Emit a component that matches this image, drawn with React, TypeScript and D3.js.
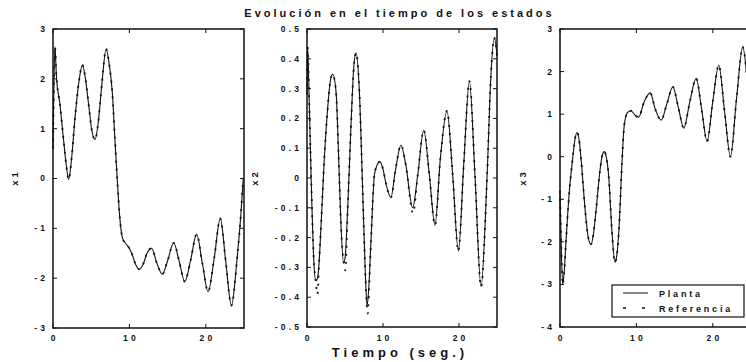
import React from "react";
import * as d3 from "d3";

// Time axis ticks and per-state y ticks
const timeTicks = [0, 10, 20];
const x1Ticks = [3, 2, 1, 0, -1, -2, -3];
const x2Ticks = [0.5, 0.4, 0.3, 0.2, 0.1, 0, -0.1, -0.2, -0.3, -0.4, -0.5];
const x3Ticks = [3, 2, 1, 0, -1, -2, -3, -4];

const titleText = "Evolución en el tiempo de los estados";
const xAxisLabel = "Tiempo (seg.)";
const legendLabels = ["Planta", "Referencia"];

// State x1: [t, value]
const plantaX1: [number, number][] = [
  [0, 0.6], [0.1, 1.7], [0.25, 2.65], [0.45, 2.05], [0.9, 1.5], [1.4, 0.75], [1.75, 0.25],
  [2.05, -0.02], [2.4, 0.35], [2.9, 1.25], [3.4, 1.95], [3.85, 2.28], [4.25, 2.0], [4.65, 1.5],
  [5.1, 0.95], [5.5, 0.78], [5.9, 1.1], [6.4, 1.9], [6.95, 2.6], [7.35, 2.3], [7.75, 1.75],
  [8.1, 0.8], [8.4, 0.0], [8.75, -0.8], [9.1, -1.2], [9.5, -1.3], [9.9, -1.38], [10.3, -1.5],
  [10.8, -1.72], [11.3, -1.82], [11.8, -1.72], [12.3, -1.5], [12.9, -1.4], [13.6, -1.7],
  [14.3, -1.92], [15.0, -1.65], [15.8, -1.29], [16.5, -1.65], [17.25, -2.07], [18.0, -1.65],
  [18.8, -1.12], [19.55, -1.7], [20.3, -2.27], [21.1, -1.6], [21.9, -0.8], [22.6, -1.65],
  [23.35, -2.55], [24.1, -1.6], [24.6, -0.7], [24.9, 0.0],
];

// State x2: plant response
const plantaX2: [number, number][] = [
  [0, 0.28], [0.08, 0.44], [0.3, 0.25], [0.6, -0.05], [0.9, -0.28], [1.15, -0.345], [1.4, -0.335],
  [1.6, -0.28], [1.85, -0.158], [2.28, 0.066], [2.72, 0.234], [3.1, 0.33], [3.38, 0.348],
  [3.82, 0.29], [4.17, 0.066], [4.47, -0.158], [4.83, -0.285], [5.0, -0.27], [5.36, -0.1],
  [5.79, 0.178], [6.15, 0.37], [6.45, 0.42], [6.89, 0.29], [7.33, -0.046], [7.68, -0.325],
  [7.9, -0.43], [8.1, -0.38], [8.42, -0.21], [8.87, 0.01], [9.25, 0.045], [9.6, 0.055],
  [10.0, 0.03], [10.4, -0.02], [11.05, -0.065], [11.6, 0.02], [12.37, 0.11], [13.0, 0.044],
  [13.9, -0.1], [14.57, 0.01], [15.36, 0.16], [16.1, 0.01], [16.84, -0.158], [17.55, 0.066],
  [18.42, 0.225], [19.17, 0.01], [19.92, -0.245], [20.62, 0.044], [21.37, 0.325], [22.1, 0.01],
  [22.9, -0.365], [23.7, 0.01], [24.2, 0.345], [24.66, 0.47], [25, 0.41],
];

// State x2: reference trajectory (dips slightly deeper at some troughs)
const referenciaX2: [number, number][] = [
  [0, 0.28], [0.08, 0.44], [0.3, 0.25], [0.6, -0.05], [0.9, -0.28], [1.15, -0.345], [1.37, -0.39],
  [1.6, -0.28], [1.85, -0.158], [2.28, 0.066], [2.72, 0.234], [3.1, 0.33], [3.38, 0.348],
  [3.82, 0.29], [4.17, 0.066], [4.47, -0.158], [4.83, -0.285], [5.05, -0.31], [5.36, -0.1],
  [5.79, 0.178], [6.15, 0.37], [6.45, 0.42], [6.89, 0.29], [7.33, -0.046], [7.68, -0.325],
  [8.0, -0.455], [8.15, -0.38], [8.42, -0.21], [8.87, 0.01], [9.25, 0.045], [9.6, 0.055],
  [10.0, 0.03], [10.4, -0.02], [11.05, -0.065], [11.6, 0.02], [12.37, 0.11], [13.0, 0.044],
  [13.95, -0.118], [14.57, 0.01], [15.36, 0.16], [16.1, 0.01], [16.84, -0.158], [17.55, 0.066],
  [18.42, 0.225], [19.17, 0.01], [19.92, -0.245], [20.62, 0.044], [21.37, 0.325], [22.1, 0.01],
  [22.9, -0.365], [23.7, 0.01], [24.2, 0.345], [24.66, 0.47], [25, 0.41],
];

// State x3
const plantaX3: [number, number][] = [
  [0, -0.8], [0.15, -2.0], [0.35, -3.0], [0.55, -2.7], [0.78, -2.0], [1.22, -0.82], [1.66, -0.04],
  [1.95, 0.4], [2.22, 0.57], [2.5, 0.4], [2.75, -0.04], [3.31, -1.29], [3.7, -1.9], [4.05, -2.06],
  [4.35, -1.85], [4.7, -1.29], [5.27, -0.27], [5.55, 0.05], [5.8, 0.12], [6.05, 0.0],
  [6.36, -0.43], [6.8, -1.76], [7.19, -2.48], [7.45, -2.3], [7.75, -1.6], [8.1, -0.19],
  [8.41, 0.74], [8.85, 1.04], [9.28, 1.08], [9.8, 0.98], [10.28, 0.93], [11.02, 1.29],
  [11.8, 1.5], [12.5, 1.1], [13.24, 0.86], [14.0, 1.25], [14.77, 1.64], [15.5, 1.15],
  [16.2, 0.67], [17.0, 1.3], [17.82, 1.84], [18.55, 1.1], [19.25, 0.36], [20.0, 1.3],
  [20.78, 2.15], [21.55, 1.05], [22.31, 0.0], [23.1, 1.35], [23.92, 2.58], [24.48, 1.84],
  [25, 0.6],
];

const FONT = "'Liberation Sans', Arial, Helvetica, sans-serif";
const INK = "#111";

type Panel = {
  left: number;
  right: number;
  top: number;
  bottom: number;
  yDomain: [number, number];
  yTicks: number[];
  label: string;
  labelX: number;
  planta: [number, number][];
  referencia: [number, number][];
};

const panels: Panel[] = [
  { left: 53, right: 244, top: 29, bottom: 328, yDomain: [-3, 3], yTicks: x1Ticks, label: "x1", labelX: 15, planta: plantaX1, referencia: plantaX1 },
  { left: 307, right: 497, top: 29, bottom: 327, yDomain: [-0.5, 0.5], yTicks: x2Ticks, label: "x2", labelX: 255, planta: plantaX2, referencia: referenciaX2 },
  { left: 560, right: 751, top: 29, bottom: 327, yDomain: [-4, 3], yTicks: x3Ticks, label: "x3", labelX: 523, planta: plantaX3, referencia: plantaX3 },
];

const fmt = (v: number) => String(+v.toFixed(1));

function StatePanel({ p }: { p: Panel }) {
  const xs = d3.scaleLinear().domain([0, 25]).range([p.left, p.right]);
  const ys = d3.scaleLinear().domain(p.yDomain).range([p.bottom, p.top]);
  const line = d3
    .line<[number, number]>()
    .x((d) => xs(d[0]))
    .y((d) => ys(d[1]))
    .curve(d3.curveMonotoneX);
  const tl = 4;
  const tickSpacing = 3.2;
  return (
    <g>
      <path d={line(p.planta) ?? ""} fill="none" stroke={INK} strokeWidth={1.1} />
      <path d={line(p.referencia) ?? ""} fill="none" stroke={INK} strokeWidth={1.8} strokeDasharray="2 6" />
      <rect x={p.left} y={p.top} width={p.right - p.left} height={p.bottom - p.top} fill="none" stroke={INK} strokeWidth={1.5} />
      {timeTicks.map((t) => (
        <g key={"xt" + t}>
          <line x1={xs(t)} x2={xs(t)} y1={p.bottom} y2={p.bottom - tl} stroke={INK} strokeWidth={1} />
          <line x1={xs(t)} x2={xs(t)} y1={p.top} y2={p.top + tl} stroke={INK} strokeWidth={1} />
          <text x={xs(t)} y={341} dx={tickSpacing / 2} textAnchor="middle" fontSize={8.5} fontWeight="bold" style={{ letterSpacing: tickSpacing }} fill={INK}>
            {fmt(t)}
          </text>
        </g>
      ))}
      {p.yTicks.map((v) => (
        <g key={"yt" + v}>
          <line x1={p.left} x2={p.left + tl} y1={ys(v)} y2={ys(v)} stroke={INK} strokeWidth={1} />
          <line x1={p.right} x2={p.right - tl} y1={ys(v)} y2={ys(v)} stroke={INK} strokeWidth={1} />
          <text x={p.left - 8} y={ys(v)} dx={tickSpacing} dy="0.35em" textAnchor="end" fontSize={8.5} fontWeight="bold" style={{ letterSpacing: tickSpacing }} fill={INK}>
            {fmt(v)}
          </text>
        </g>
      ))}
      <text
        transform={`translate(${p.labelX},${179}) rotate(-90)`}
        textAnchor="middle"
        dy="0.35em"
        dx={1.5}
        fontSize={9.5}
        fontWeight="bold"
        style={{ letterSpacing: 3 }}
        fill={INK}
      >
        {p.label}
      </text>
    </g>
  );
}

export default function App() {
  const W = 746;
  const H = 362;
  const lg = { x: 612, y: 285, w: 132, h: 32 };
  return (
    <svg width={W} height={H} style={{ position: "absolute", left: 0, top: 0, background: "#fff" }} fontFamily={FONT}>
      <rect width={W} height={H} fill="#fff" />
      {panels.map((p) => (
        <StatePanel key={p.label} p={p} />
      ))}
      <text x={398} y={17} dx={1.5} textAnchor="middle" fontSize={11} fontWeight="bold" style={{ letterSpacing: 3 }} fill={INK}>
        {titleText}
      </text>
      <text x={398} y={357} dx={2} textAnchor="middle" fontSize={13} fontWeight="bold" style={{ letterSpacing: 4 }} fill={INK}>
        {xAxisLabel}
      </text>
      <g>
        <rect x={lg.x} y={lg.y} width={lg.w} height={lg.h} fill="#fff" stroke={INK} strokeWidth={1.2} />
        <line x1={623} x2={648} y1={293} y2={293} stroke={INK} strokeWidth={1} />
        <line x1={623} x2={648} y1={308} y2={308} stroke={INK} strokeWidth={1.7} strokeDasharray="3 16" />
        {legendLabels.map((s, i) => (
          <text key={s} x={659} y={296.5 + i * 15} fontSize={9} fontWeight="bold" style={{ letterSpacing: 2.8 }} fill={INK}>
            {s}
          </text>
        ))}
      </g>
    </svg>
  );
}
